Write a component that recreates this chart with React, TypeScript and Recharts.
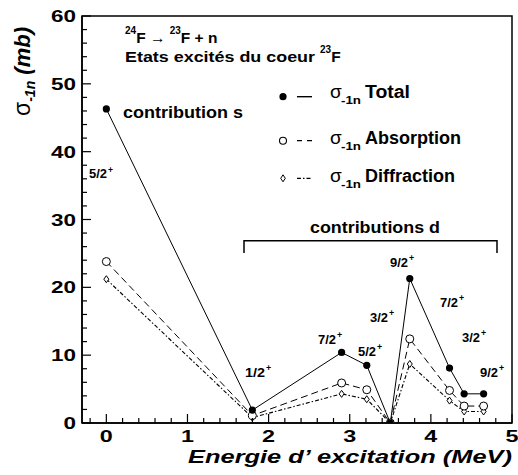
import { LineChart, Line, XAxis, YAxis, ReferenceArea } from 'recharts';

// excitation energies of the 23F core states (MeV)
const energies = [0, 1.8, 2.9, 3.21, 3.5, 3.74, 4.23, 4.41, 4.65];
// sigma -1n per state (mb)
const sigmaTotal = [46.3, 1.9, 10.4, 8.5, 0, 21.3, 8.1, 4.3, 4.3];
const sigmaAbsorption = [23.8, 1.1, 5.9, 4.9, 0, 12.4, 4.8, 2.5, 2.5];
const sigmaDiffraction = [21.2, 0.8, 4.3, 3.5, 0, 8.7, 3.3, 1.7, 1.7];

const xTicks = [
  -0.2, 0, 0.2, 0.4, 0.6, 0.8, 1, 1.2, 1.4, 1.6, 1.8, 2, 2.2, 2.4, 2.6, 2.8, 3,
  3.2, 3.4, 3.6, 3.8, 4, 4.2, 4.4, 4.6, 4.8, 5,
];
const yTicks = [
  0, 2, 4, 6, 8, 10, 12, 14, 16, 18, 20, 22, 24, 26, 28, 30, 32, 34, 36, 38, 40,
  42, 44, 46, 48, 50, 52, 54, 56, 58, 60,
];

const FONT = '"Liberation Sans", Arial, Helvetica, sans-serif';
const INK = '#000';

const toRows = (vals: number[]) => energies.map((e, i) => ({ e, v: vals[i] }));

function isMajor(v: number, step: number) {
  const q = v / step;
  return Math.abs(q - Math.round(q)) < 1e-6;
}

function XTick(props: any) {
  const { x, y, payload } = props;
  const v = payload.value as number;
  const major = isMajor(v, 1);
  return (
    <g>
      <line x1={x} x2={x} y1={y} y2={y - (major ? 9 : 5)} stroke={INK} strokeWidth={1.2} />
      {major && v > -0.1 && (
        <text
          x={x}
          y={y + 19}
          textAnchor="middle"
          fontFamily={FONT}
          fontWeight="bold"
          fontSize={17}
          textLength={13}
          lengthAdjust="spacingAndGlyphs"
          fill={INK}
        >
          {v}
        </text>
      )}
    </g>
  );
}

function YTick(props: any) {
  const { x, y, payload } = props;
  const v = payload.value as number;
  const major = isMajor(v, 10);
  const label = String(v);
  return (
    <g>
      <line x1={x} x2={x + (major ? 9 : 5)} y1={y} y2={y} stroke={INK} strokeWidth={1.2} />
      {major && (
        <text
          x={x - 6}
          y={y + 6}
          textAnchor="end"
          fontFamily={FONT}
          fontWeight="bold"
          fontSize={17}
          textLength={label.length * 12.5}
          lengthAdjust="spacingAndGlyphs"
          fill={INK}
        >
          {label}
        </text>
      )}
    </g>
  );
}

function FilledDot(p: any) {
  if (p.cx == null || p.cy == null) return <g key={p.key} />;
  return <circle key={p.key} cx={p.cx} cy={p.cy} r={3.6} fill={INK} />;
}

function OpenDot(p: any) {
  if (p.cx == null || p.cy == null) return <g key={p.key} />;
  return <circle key={p.key} cx={p.cx} cy={p.cy} r={4} fill="#fff" stroke={INK} strokeWidth={1} />;
}

function Diamond(p: any) {
  if (p.cx == null || p.cy == null) return <g key={p.key} />;
  const { cx, cy } = p;
  return (
    <polygon
      key={p.key}
      points={`${cx},${cy - 3.5} ${cx + 2.5},${cy} ${cx},${cy + 3.5} ${cx - 2.5},${cy}`}
      fill="#fff"
      stroke={INK}
      strokeWidth={1}
    />
  );
}

function T({
  x,
  y,
  size,
  w,
  anchor = 'start',
  italic = false,
  children,
}: {
  x: number;
  y: number;
  size: number;
  w?: number;
  anchor?: 'start' | 'middle' | 'end';
  italic?: boolean;
  children: React.ReactNode;
}) {
  return (
    <text
      x={x}
      y={y}
      fontSize={size}
      fontFamily={FONT}
      fontWeight="bold"
      fontStyle={italic ? 'italic' : 'normal'}
      textAnchor={anchor}
      textLength={w}
      lengthAdjust={w ? 'spacingAndGlyphs' : undefined}
      fill={INK}
    >
      {children}
    </text>
  );
}

// spin-parity label with a raised "+"
function State({ x, y, j, size = 13, w = 18 }: { x: number; y: number; j: string; size?: number; w?: number }) {
  return (
    <g>
      <T x={x} y={y} size={size} w={w}>
        {j}
      </T>
      <T x={x + w + 1} y={y - size * 0.45} size={size * 0.68}>
        +
      </T>
    </g>
  );
}

function SigmaLabel({ x, y, name, w }: { x: number; y: number; name: string; w: number }) {
  return (
    <g>
      <text x={x} y={y} fontSize={19} fontFamily={FONT} fill={INK}>
        σ
      </text>
      <T x={x + 11} y={y + 6} size={11} w={20}>
        -1n
      </T>
      <T x={x + 35} y={y} size={18} w={w}>
        {name}
      </T>
    </g>
  );
}

function Overlay() {
  return (
    <svg
      width={518}
      height={475}
      style={{ position: 'absolute', left: 0, top: 0, pointerEvents: 'none' }}
    >
      {/* y axis title */}
      <text transform="translate(30,116) rotate(-90)" fontFamily={FONT} fill={INK}>
        <tspan fontSize={23}>σ</tspan>
        <tspan fontSize={14} fontWeight="bold" fontStyle="italic" dy={5}>
          -1n
        </tspan>
        <tspan fontSize={22} fontWeight="bold" fontStyle="italic" dy={-5}>
          {' (mb)'}
        </tspan>
      </text>

      {/* x axis title */}
      <T x={512} y={463} size={19} w={324} anchor="end" italic>
        Energie d’ excitation (MeV)
      </T>

      {/* reaction */}
      <text fontFamily={FONT} fontWeight="bold" fill={INK}>
        <tspan x={125} y={34} fontSize={10}>
          24
        </tspan>
        <tspan y={42.5} fontSize={15.5}>
          F →{' '}
        </tspan>
        <tspan y={34} fontSize={10}>
          23
        </tspan>
        <tspan y={42.5} fontSize={15.5}>
          F + n
        </tspan>
      </text>
      <text fontFamily={FONT} fontWeight="bold" fill={INK}>
        <tspan x={125} y={61.5} fontSize={15.5} textLength={190} lengthAdjust="spacingAndGlyphs">
          Etats excités du coeur
        </tspan>
        <tspan x={320} y={53} fontSize={10}>
          23
        </tspan>
        <tspan y={61.5} fontSize={15.5}>
          F
        </tspan>
      </text>

      {/* legend */}
      <circle cx={283} cy={96.7} r={3.6} fill={INK} />
      <line x1={297} x2={312} y1={96.7} y2={96.7} stroke={INK} strokeWidth={1.4} />
      <SigmaLabel x={330} y={98.3} name="Total" w={45} />

      <circle cx={283} cy={140.7} r={3.5} fill="#fff" stroke={INK} strokeWidth={1.1} />
      <line x1={297} x2={312} y1={140.7} y2={140.7} stroke={INK} strokeWidth={1.3} strokeDasharray="5 5" />
      <SigmaLabel x={330} y={143.5} name="Absorption" w={96} />

      <polygon points="283,174.8 285.3,178.3 283,181.8 280.7,178.3" fill="#fff" stroke={INK} strokeWidth={1} />
      <line x1={297} x2={312} y1={178.3} y2={178.3} stroke={INK} strokeWidth={1.3} strokeDasharray="4 2 1.5 2" />
      <SigmaLabel x={330} y={181.7} name="Diffraction" w={90} />

      {/* s / d contributions */}
      <T x={123} y={118} size={17} w={120}>
        contribution s
      </T>
      <T x={375} y={232.7} size={16.5} w={130} anchor="middle">
        contributions d
      </T>
      <polyline
        points="244,253 244,240.7 497,240.7 497,253"
        fill="none"
        stroke={INK}
        strokeWidth={1.5}
      />

      {/* spin-parity labels */}
      <State x={89} y={178.3} j="5/2" size={12.5} w={18} />
      <State x={245} y={376.7} j="1/2" w={20} />
      <State x={318} y={344} j="7/2" />
      <State x={358} y={356} j="5/2" />
      <State x={370} y={322} j="3/2" />
      <State x={390} y={267} j="9/2" />
      <State x={440} y={307} j="7/2" />
      <State x={462} y={342} j="3/2" />
      <State x={480} y={377} j="9/2" />
    </svg>
  );
}

export default function App() {
  return (
    <div style={{ position: 'absolute', left: 0, top: 0, width: 518, height: 475, background: '#fff' }}>
      <LineChart width={518} height={475} margin={{ top: 16, right: 6, bottom: 0, left: 22 }}>
        <XAxis
          type="number"
          dataKey="e"
          domain={[-0.3, 5]}
          ticks={xTicks}
          interval={0}
          tickSize={0}
          tickMargin={0}
          tick={<XTick />}
          height={52}
          axisLine={{ stroke: INK, strokeWidth: 1.5 }}
          allowDataOverflow
        />
        <YAxis
          type="number"
          domain={[0, 60]}
          ticks={yTicks}
          interval={0}
          tickSize={0}
          tickMargin={0}
          tick={<YTick />}
          width={60}
          axisLine={{ stroke: INK, strokeWidth: 1.5 }}
          allowDataOverflow
        />
        <ReferenceArea
          x1={-0.3}
          x2={5}
          y1={0}
          y2={60}
          fill="none"
          fillOpacity={0}
          stroke={INK}
          strokeWidth={1.5}
          ifOverflow="visible"
        />
        <Line
          data={toRows(sigmaDiffraction)}
          dataKey="v"
          type="linear"
          stroke={INK}
          strokeWidth={1.1}
          strokeDasharray="4 2 1.5 2"
          dot={Diamond}
          activeDot={false}
          isAnimationActive={false}
        />
        <Line
          data={toRows(sigmaAbsorption)}
          dataKey="v"
          type="linear"
          stroke={INK}
          strokeWidth={1}
          strokeDasharray="7 4"
          dot={OpenDot}
          activeDot={false}
          isAnimationActive={false}
        />
        <Line
          data={toRows(sigmaTotal)}
          dataKey="v"
          type="linear"
          stroke={INK}
          strokeWidth={1}
          dot={FilledDot}
          activeDot={false}
          isAnimationActive={false}
        />
      </LineChart>
      <Overlay />
    </div>
  );
}
